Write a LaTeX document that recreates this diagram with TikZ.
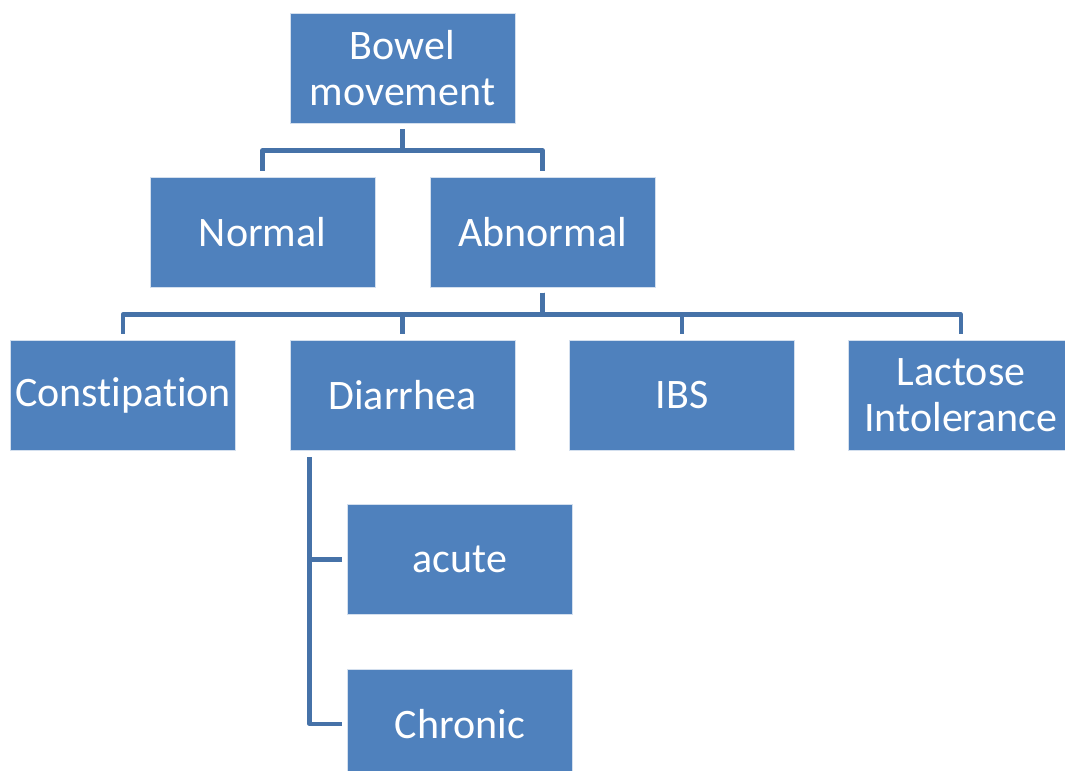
\documentclass[tikz,border=0pt]{standalone}
\usepackage{fontspec}
\setmainfont[RawFeature={-liga;-clig;-dlig;-calt}]{Carlito}
\definecolor{boxblue}{HTML}{4F81BD}
\definecolor{lineblue}{HTML}{4672A8}
\begin{document}
\begin{tikzpicture}[x=0.75pt,y=-0.75pt,
  box/.style={fill=boxblue, draw=white!75!boxblue, line width=0.5pt,
    minimum width=168.75pt, minimum height=82.5pt, text=white,
    font=\fontsize{31.5}{34.5}\selectfont, align=center, inner sep=0pt},
  conn/.style={draw=lineblue, line width=3.3pt, line join=round}]
\useasboundingbox (0,0) rectangle (1065,771);
\clip (0,0) rectangle (1065,771);
\node[box] (bm)  at (402.5,68)   {Bowel\\movement};
\node[box] (nor) at (262.5,232)  {Normal};
\node[box] (abn) at (542.5,232)  {Abnormal};
\node[box] (con) at (123,395.5)  {Constipation};
\node[box] (dia) at (402.5,395.5) {Diarrhea};
\node[box] (ibs) at (682,395.5)  {IBS};
\node[box] (lac) at (961,395.5)  {Lactose\\Intolerance};
\node[box] (acu) at (460,559.5)  {acute};
\node[box] (chr) at (460,724)    {Chronic};
\foreach \c in {nor,abn}
  \draw[conn] ([yshift=-4.5pt]bm.south) -- ++(0,21) -| ([yshift=4.5pt]\c.north);
\foreach \c in {con,dia,ibs,lac}
  \draw[conn] ([yshift=-4pt]abn.south) -- ++(0,22) -| ([yshift=4.5pt]\c.north);
\foreach \c in {acu,chr}
  \draw[conn] ([xshift=-3.75pt]\c.west) -| ([xshift=15pt,yshift=-4.5pt]dia.south west);
\end{tikzpicture}
\end{document}
